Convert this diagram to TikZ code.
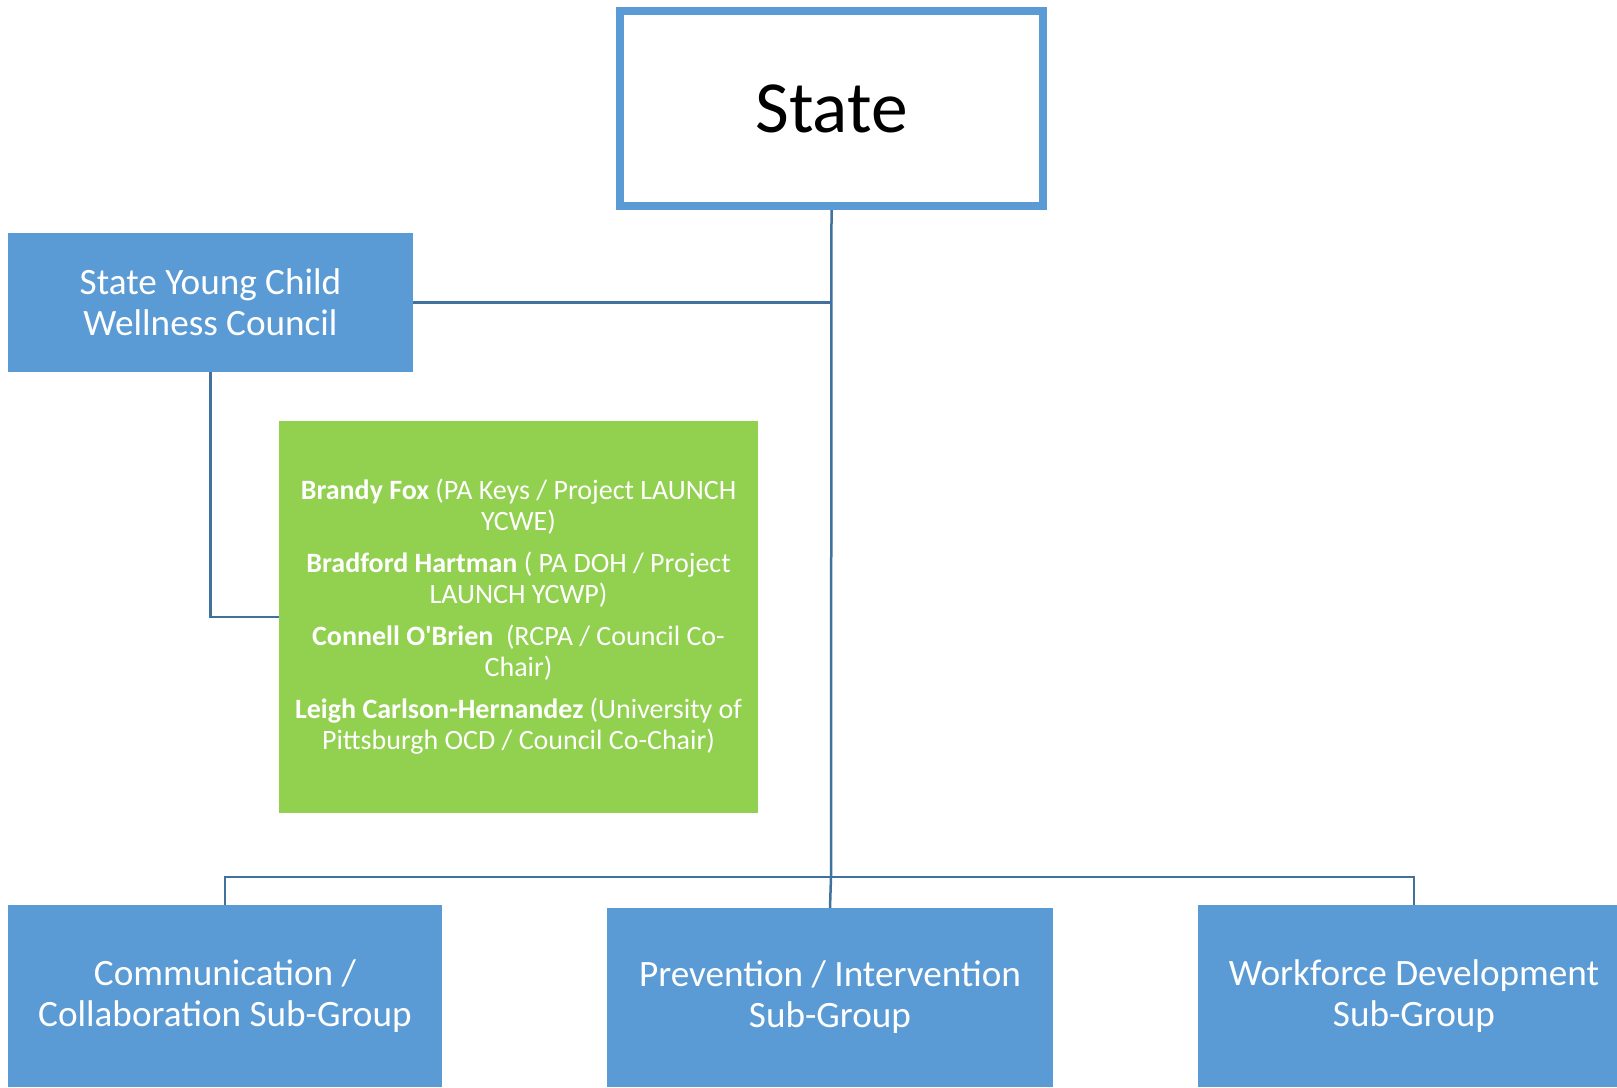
\documentclass[tikz,border=0pt]{standalone}
\usepackage{fontspec}
\setmainfont{Carlito}
\definecolor{boxblue}{HTML}{5B9BD5}
\definecolor{linkblue}{HTML}{41719C}
\definecolor{memgreen}{HTML}{92D050}
\tikzset{
  bluebox/.style={rectangle, fill=boxblue, inner sep=0pt, text=white, align=center,
    font=\fontsize{37.2}{41}\selectfont},
  link/.style={draw=linkblue, line width=2.5pt}
}
\begin{document}
\begin{tikzpicture}[x=1pt,y=-1pt]
\useasboundingbox (0,0) rectangle (1617,1087);
\node (state) [rectangle, draw=boxblue, line width=8pt, fill=white, inner sep=0pt,
  minimum width=423pt, minimum height=195pt, font=\fontsize{73.5}{80}\selectfont]
  at (831.5,108.5) {State};
\node (council) [bluebox, minimum width=405pt, minimum height=139pt]
  at (210.5,302.5) {State Young Child\\Wellness Council};
\node (members) [rectangle, fill=memgreen, inner sep=0pt, text=white, align=center,
  minimum width=479pt, minimum height=392pt, font=\fontsize{28}{31}\selectfont]
  at (518.5,617) {\textbf{Brandy Fox} (PA Keys / Project LAUNCH\\YCWE)\\[11pt]
  \textbf{Bradford Hartman} ( PA DOH / Project\\LAUNCH YCWP)\\[11pt]
  \textbf{Connell O\textquotesingle Brien}~ (RCPA / Council Co-\\Chair)\\[11pt]
  \textbf{Leigh Carlson-Hernandez} (University of\\Pittsburgh OCD / Council Co-Chair)};
\node (comm) [bluebox, minimum width=434pt, minimum height=182pt]
  at (225,996) {Communication /\\Collaboration Sub-Group};
\node (prev) [bluebox, minimum width=446pt, minimum height=179pt]
  at (830,997.5) {Prevention / Intervention\\Sub-Group};
\node (work) [bluebox, minimum width=432pt, minimum height=182pt]
  at (1414,996) {Workforce Development\\Sub-Group};
% connectors
\coordinate (bus) at (831,877);
\draw [link] (state.south) -- (bus);
\draw [link] (council.east) -- (council.east -| bus);
\draw [link] (council.south) |- (members.west);
\draw [link] (comm.north) |- (bus) -| (work.north);
\draw [link] (bus) -- (prev.north);
\end{tikzpicture}
\end{document}
